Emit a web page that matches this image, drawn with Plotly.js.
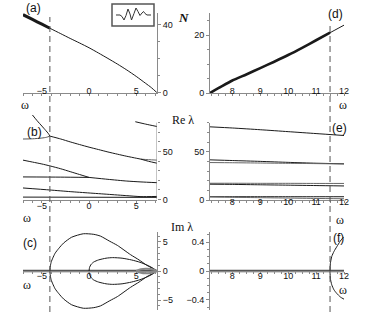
<!DOCTYPE html>
<html><head><meta charset="utf-8">
<script src="https://cdn.plot.ly/plotly-3.0.1.min.js"></script>
<style>html,body{margin:0;padding:0;background:#fff}#chart{width:366px;height:323px}</style>
</head><body><div id="chart"></div>
<script>
// ---------- data ----------
// (a) N vs omega (left part)
const omegaA = [-7, -6, -5, -4.15, -3, -2, -1, 0, 1, 2, 3, 4, 5, 6, 6.6, 7.2];
const nA     = [46, 43.2, 40.4, 38, 34.8, 32, 29.3, 26.5, 23.4, 20.2, 16.9, 13.4, 9.6, 5.5, 3, 0];
// (d) N vs omega (right part)
const omegaD = [7.2, 7.6, 8, 8.5, 9, 9.5, 10, 10.5, 11, 11.5, 12];
const nD     = [0, 2.2, 4.3, 6.4, 8.6, 10.8, 13.1, 15.6, 18.2, 20.8, 23.4];
// (b) Re lambda, left
const bUpW  = [-6, -5.5, -5, -4.6, -4.3, -4.15];
const bUpRe = [88, 82, 76.5, 72, 68.5, 66];
const bLowW  = [-7, -6, -5, -4.5, -4.15];
const bLowRe = [63, 63.2, 64, 64.8, 66];
const bMainW  = [-4.15, -3, -2, -1, 0, 1, 2, 3, 4, 5, 5.5];
const bMainRe = [66, 63, 60, 57.2, 54.5, 52, 49.5, 47.2, 45, 43, 42];
const bHiW  = [5.5, 6.3, 7.2];
const bHiRe = [42, 41.5, 41];
const bLoW  = [5.5, 6.3, 7.2];
const bLoRe = [42, 39.8, 37.8];
const bTopW  = [4.9, 6, 7.2];
const bTopRe = [81, 78.5, 76];
const b2W  = [-7, -6, -5, -4.15, -3, -2, -1, 0];
const b2Re = [41, 39, 37, 35, 32, 29, 26, 23];
const b2FlatW  = [-7, -3, 0];
const b2FlatRe = [23.5, 23.3, 23];
const b2MergeW  = [0, 2, 4, 5.5, 7.2];
const b2MergeRe = [23, 21, 19.2, 18.3, 17.5];
const b3W  = [-7, -4.15, -2, 0, 2, 4, 5.5, 7.2];
const b3Re = [12, 9.9, 8.2, 6.8, 5.4, 4, 3, 3.2];
const b4W  = [-7, 7.2];
const b4Re = [2.5, 2.2];
// (e) Re lambda, right
const eW     = [7.2, 8, 9, 10, 11, 12];
const eTopRe = [76, 74.8, 73, 71, 69, 67];
const e2aRe  = [41.7, 41, 40.1, 39.1, 38.2, 37.6];
const e2bRe  = [38.9, 38.7, 38.4, 38.1, 37.8, 37.4];
const e3aRe  = [17.4, 17.4, 17.3, 17.3, 17.2, 17.2];
const e3bRe  = [16.4, 16.2, 15.8, 15.4, 15, 14.6];
const e4aRe  = [3.4, 3.4, 3.4, 3.4, 3.4, 3.4];
const e4bRe  = [3.2, 2.8, 2.4, 2.0, 1.6, 1.3];
// (c) Im lambda, left
const cBigUpW  = [-4.15, -4.1, -4, -3.85, -3.6, -3.2, -2.7, -1.85, -0.6, 0.5, 1.2, 2.2, 3, 4.4, 5.3, 6.1, 6.8, 7.2];
const cBigUpIm = [0, 0.9, 1.6, 2.2, 3.05, 3.9, 4.8, 5.8, 6.4, 6.3, 6.0, 5.1, 4.4, 2.8, 1.9, 1.0, 0.4, 0];
const cBigLoIm = [0, -0.9, -1.6, -2.2, -3.05, -3.9, -4.8, -5.8, -6.4, -6.3, -6.0, -5.1, -4.4, -2.8, -1.9, -1.0, -0.4, 0];
const cSmW    = [0, 0.05, 0.2, 0.5, 1, 1.8, 2.5, 3.5, 4.5, 5.4, 6.3, 6.8, 7.2];
const cSmUpIm = [0, 0.6, 1.1, 1.55, 1.9, 2.2, 2.3, 2.2, 1.9, 1.5, 0.9, 0.45, 0];
const cSmLoIm = [0, -0.6, -1.1, -1.55, -1.9, -2.2, -2.3, -2.2, -1.9, -1.5, -0.9, -0.45, 0];
const cTinyW    = [5, 5.5, 6, 6.5, 7, 7.2];
const cTinyUpIm = [0, 0.3, 0.4, 0.35, 0.15, 0];
const cTinyLoIm = [0, -0.3, -0.4, -0.35, -0.15, 0];
const cZeroW  = [-7, 7.2];
const cZeroIm = [0, 0];
// (f) Im lambda, right
const fZeroW  = [7.2, 12];
const fZeroIm = [0, 0];
const fUpW  = [11.5, 11.51, 11.56, 11.64, 11.74, 11.86, 11.98];
const fUpIm = [0, 0.1, 0.2, 0.27, 0.335, 0.41, 0.47];
const fLoW  = [11.5, 11.51, 11.56, 11.64, 11.74, 11.87, 12];
const fLoIm = [0, -0.1, -0.19, -0.26, -0.31, -0.36, -0.39];
// ticks / markers
const epLeft = -4.15, epRight = 11.5;
const leftTicks = [-5, 0, 5];
const rightTicks = [8, 9, 10, 11, 12];

// ---------- helpers ----------
const W = 366, H = 323;
const fx = p => p / W;
const fy = p => 1 - p / H;
const INK = '#1a1a1a', AX = '#8a8a8a';
const tickFont = {family: 'Liberation Sans, Arial, sans-serif', size: 9, color: '#111'};

function ln(x, y, xa, ya, opt) {
  opt = opt || {};
  return {x: x, y: y, xaxis: xa, yaxis: ya, type: 'scatter', mode: 'lines',
    hoverinfo: 'skip',
    line: {color: opt.color || INK, width: opt.width || 1, shape: opt.shape || 'spline', smoothing: 0.6}};
}

const traces = [
  // (a)
  ln(omegaA, nA, 'x', 'y'),
  ln(omegaA.slice(0, 4), nA.slice(0, 4), 'x', 'y', {width: 3}),
  // (d)
  ln(omegaD, nD, 'x2', 'y2'),
  ln(omegaD.slice(0, 10), nD.slice(0, 10), 'x2', 'y2', {width: 2.6}),
  // (b)
  ln(bUpW, bUpRe, 'x3', 'y3'),
  ln(bLowW, bLowRe, 'x3', 'y3', {color: '#555'}),
  ln(bMainW, bMainRe, 'x3', 'y3'),
  ln(bHiW, bHiRe, 'x3', 'y3', {color: '#666'}),
  ln(bLoW, bLoRe, 'x3', 'y3'),
  ln(bTopW, bTopRe, 'x3', 'y3'),
  ln(b2W, b2Re, 'x3', 'y3'),
  ln(b2FlatW, b2FlatRe, 'x3', 'y3'),
  ln(b2MergeW, b2MergeRe, 'x3', 'y3'),
  ln(b3W, b3Re, 'x3', 'y3'),
  ln(b4W, b4Re, 'x3', 'y3'),
  // (e)
  ln(eW, eTopRe, 'x4', 'y4'),
  ln(eW, e2aRe, 'x4', 'y4'),
  ln(eW, e2bRe, 'x4', 'y4', {color: '#666'}),
  ln(eW, e3aRe, 'x4', 'y4', {color: '#666'}),
  ln(eW, e3bRe, 'x4', 'y4'),
  ln(eW, e4aRe, 'x4', 'y4'),
  ln(eW, e4bRe, 'x4', 'y4', {color: '#666'}),
  // (c)
  ln(cZeroW, cZeroIm, 'x5', 'y5', {color: '#555', width: 2.5, shape: 'linear'}),
  ln(cBigUpW, cBigUpIm, 'x5', 'y5'),
  ln(cBigUpW, cBigLoIm, 'x5', 'y5'),
  ln(cSmW, cSmUpIm, 'x5', 'y5'),
  ln(cSmW, cSmLoIm, 'x5', 'y5'),
  ln(cTinyW, cTinyUpIm, 'x5', 'y5', {color: '#888', width: 2}),
  ln(cTinyW, cTinyLoIm, 'x5', 'y5', {color: '#888', width: 2}),
  // (f)
  ln(fZeroW, fZeroIm, 'x6', 'y6', {color: '#555', width: 2.5, shape: 'linear'}),
  ln(fUpW, fUpIm, 'x6', 'y6'),
  ln(fLoW, fLoIm, 'x6', 'y6')
];

const LD = [fx(23), fx(157)], RD = [fx(210), fx(344)];
function xax(domain, range, anchor, tv, minorDt, standoff, extra) {
  return Object.assign({domain: domain, range: range, anchor: anchor, showgrid: false, zeroline: false,
    showline: true, linecolor: AX, linewidth: 1, tickmode: 'array', tickvals: tv,
    ticks: 'outside', ticklen: 2, tickcolor: AX, ticklabelposition: 'outside', ticklabelstandoff: standoff,
    tickfont: tickFont, fixedrange: true,
    minor: {dtick: minorDt, ticks: 'outside', ticklen: 2, tickcolor: AX}}, extra || {});
}
function yax(domain, range, anchor, side, tv, mv, extra) {
  return Object.assign({domain: domain, range: range, anchor: anchor, side: side, showgrid: false, zeroline: false,
    showline: true, linecolor: AX, linewidth: 1, tickmode: 'array', tickvals: tv,
    ticks: 'outside', ticklen: 3, tickcolor: AX, tickfont: tickFont, fixedrange: true,
    minor: {tickmode: 'array', tickvals: mv, ticks: 'outside', ticklen: 2, tickcolor: AX}}, extra || {});
}

const layout = {
  width: W, height: H, margin: {l: 0, r: 0, t: 0, b: 0},
  paper_bgcolor: '#fff', plot_bgcolor: 'rgba(0,0,0,0)', showlegend: false,
  xaxis:  xax(LD, [-7, 7.2], 'y', leftTicks, 1, -13),
  yaxis:  yax([fy(92.7), fy(13)], [0, 47], 'x', 'right', [0, 40], [10, 20, 30]),
  xaxis2: xax(RD, [7.2, 12], 'y2', rightTicks, 0.25, -13),
  yaxis2: yax([fy(93), fy(13)], [0, 27.6], 'x2', 'left', [0, 20], [5, 10, 15, 25]),
  xaxis3: xax(LD, [-7, 7.2], 'y3', leftTicks, 1, -4),
  yaxis3: yax([fy(199.5), fy(110)], [0, 93.2], 'x3', 'right', [0, 50], [10, 20, 30, 40, 60, 70, 80], {showline: false}),
  xaxis4: xax(RD, [7.2, 12], 'y4', rightTicks, 0.25, -9),
  yaxis4: yax([fy(200), fy(122.5)], [0, 80.5], 'x4', 'left', [0, 50], [10, 20, 30, 40, 60, 70, 80]),
  xaxis5: xax(LD, [-7, 7.2], 'free', leftTicks, 1, -6, {position: fy(271)}),
  yaxis5: yax([fy(310), fy(232)], [-6.7, 6.7], 'x5', 'right', [-5, 0, 5], [-6, -4, -3, -2, -1, 1, 2, 3, 4, 6]),
  xaxis6: xax(RD, [7.2, 12], 'free', rightTicks, 0.25, -6, {position: fy(271)}),
  yaxis6: yax([fy(310), fy(232)], [-0.54, 0.54], 'x6', 'left', [-0.4, 0, 0.4], [-0.5, -0.3, -0.2, -0.1, 0.1, 0.2, 0.3, 0.5]),
  shapes: [],
  annotations: []
};

// y-axis line of panel (b) only up to 80
layout.shapes.push({type: 'line', xref: 'x3', yref: 'y3', x0: 7.2, x1: 7.2, y0: 0, y1: 80, line: {color: AX, width: 1}});
// dashed vertical lines at the exceptional points
layout.shapes.push({type: 'line', xref: 'x', yref: 'paper', x0: epLeft, x1: epLeft, y0: fy(312), y1: fy(17), line: {color: '#555', width: 1, dash: '6px,4px'}});
layout.shapes.push({type: 'line', xref: 'x2', yref: 'paper', x0: epRight, x1: epRight, y0: fy(312), y1: fy(22), line: {color: '#555', width: 1, dash: '6px,4px'}});
// inset box with a wave packet icon
layout.shapes.push({type: 'rect', xref: 'paper', yref: 'paper', x0: fx(112), x1: fx(154), y0: fy(26), y1: fy(4), line: {color: '#555', width: 1.5}});
const iconPts = [[116,15],[120,15],[122,16.5],[124,20],[126,15.5],[128,9],[130,14],[131.5,20],[134,13.5],[136,8],[138,11.5],[140,15.5],[142,13],[143.5,11.5],[145,13.5],[147,15],[151,15]];
let path = '';
iconPts.forEach((p, i) => { path += (i ? ' L' : 'M') + fx(p[0]).toFixed(4) + ',' + fy(p[1]).toFixed(4); });
layout.shapes.push({type: 'path', xref: 'paper', yref: 'paper', path: path, line: {color: '#333', width: 1}});

function ann(text, x, y, font) {
  layout.annotations.push({text: text, xref: 'paper', yref: 'paper', x: fx(x), y: fy(y),
    xanchor: 'center', yanchor: 'middle', showarrow: false, font: font});
}
const lblFont = {family: 'Liberation Sans, Arial, sans-serif', size: 12, color: '#111'};
const serif = {family: 'Liberation Serif, Times New Roman, serif', size: 12, color: '#111'};
ann('(a)', 33, 8, lblFont);
ann('(d)', 335, 14, lblFont);
ann('(b)', 34, 132, lblFont);
ann('(e)', 339, 128, lblFont);
ann('(c)', 30, 243, lblFont);
ann('(f)', 338, 238, lblFont);
ann('<b><i>N</i></b>', 183, 18, {family: 'Liberation Serif, serif', size: 13, color: '#111'});
ann('Re λ', 183, 120, serif);
ann('Im λ', 182, 227, serif);
[[25,105],[343,105],[27,218],[340,220],[27,285],[343,290]].forEach(p => ann('ω', p[0], p[1], serif));

Plotly.newPlot('chart', traces, layout, {displayModeBar: false, staticPlot: true});
</script></body></html>
